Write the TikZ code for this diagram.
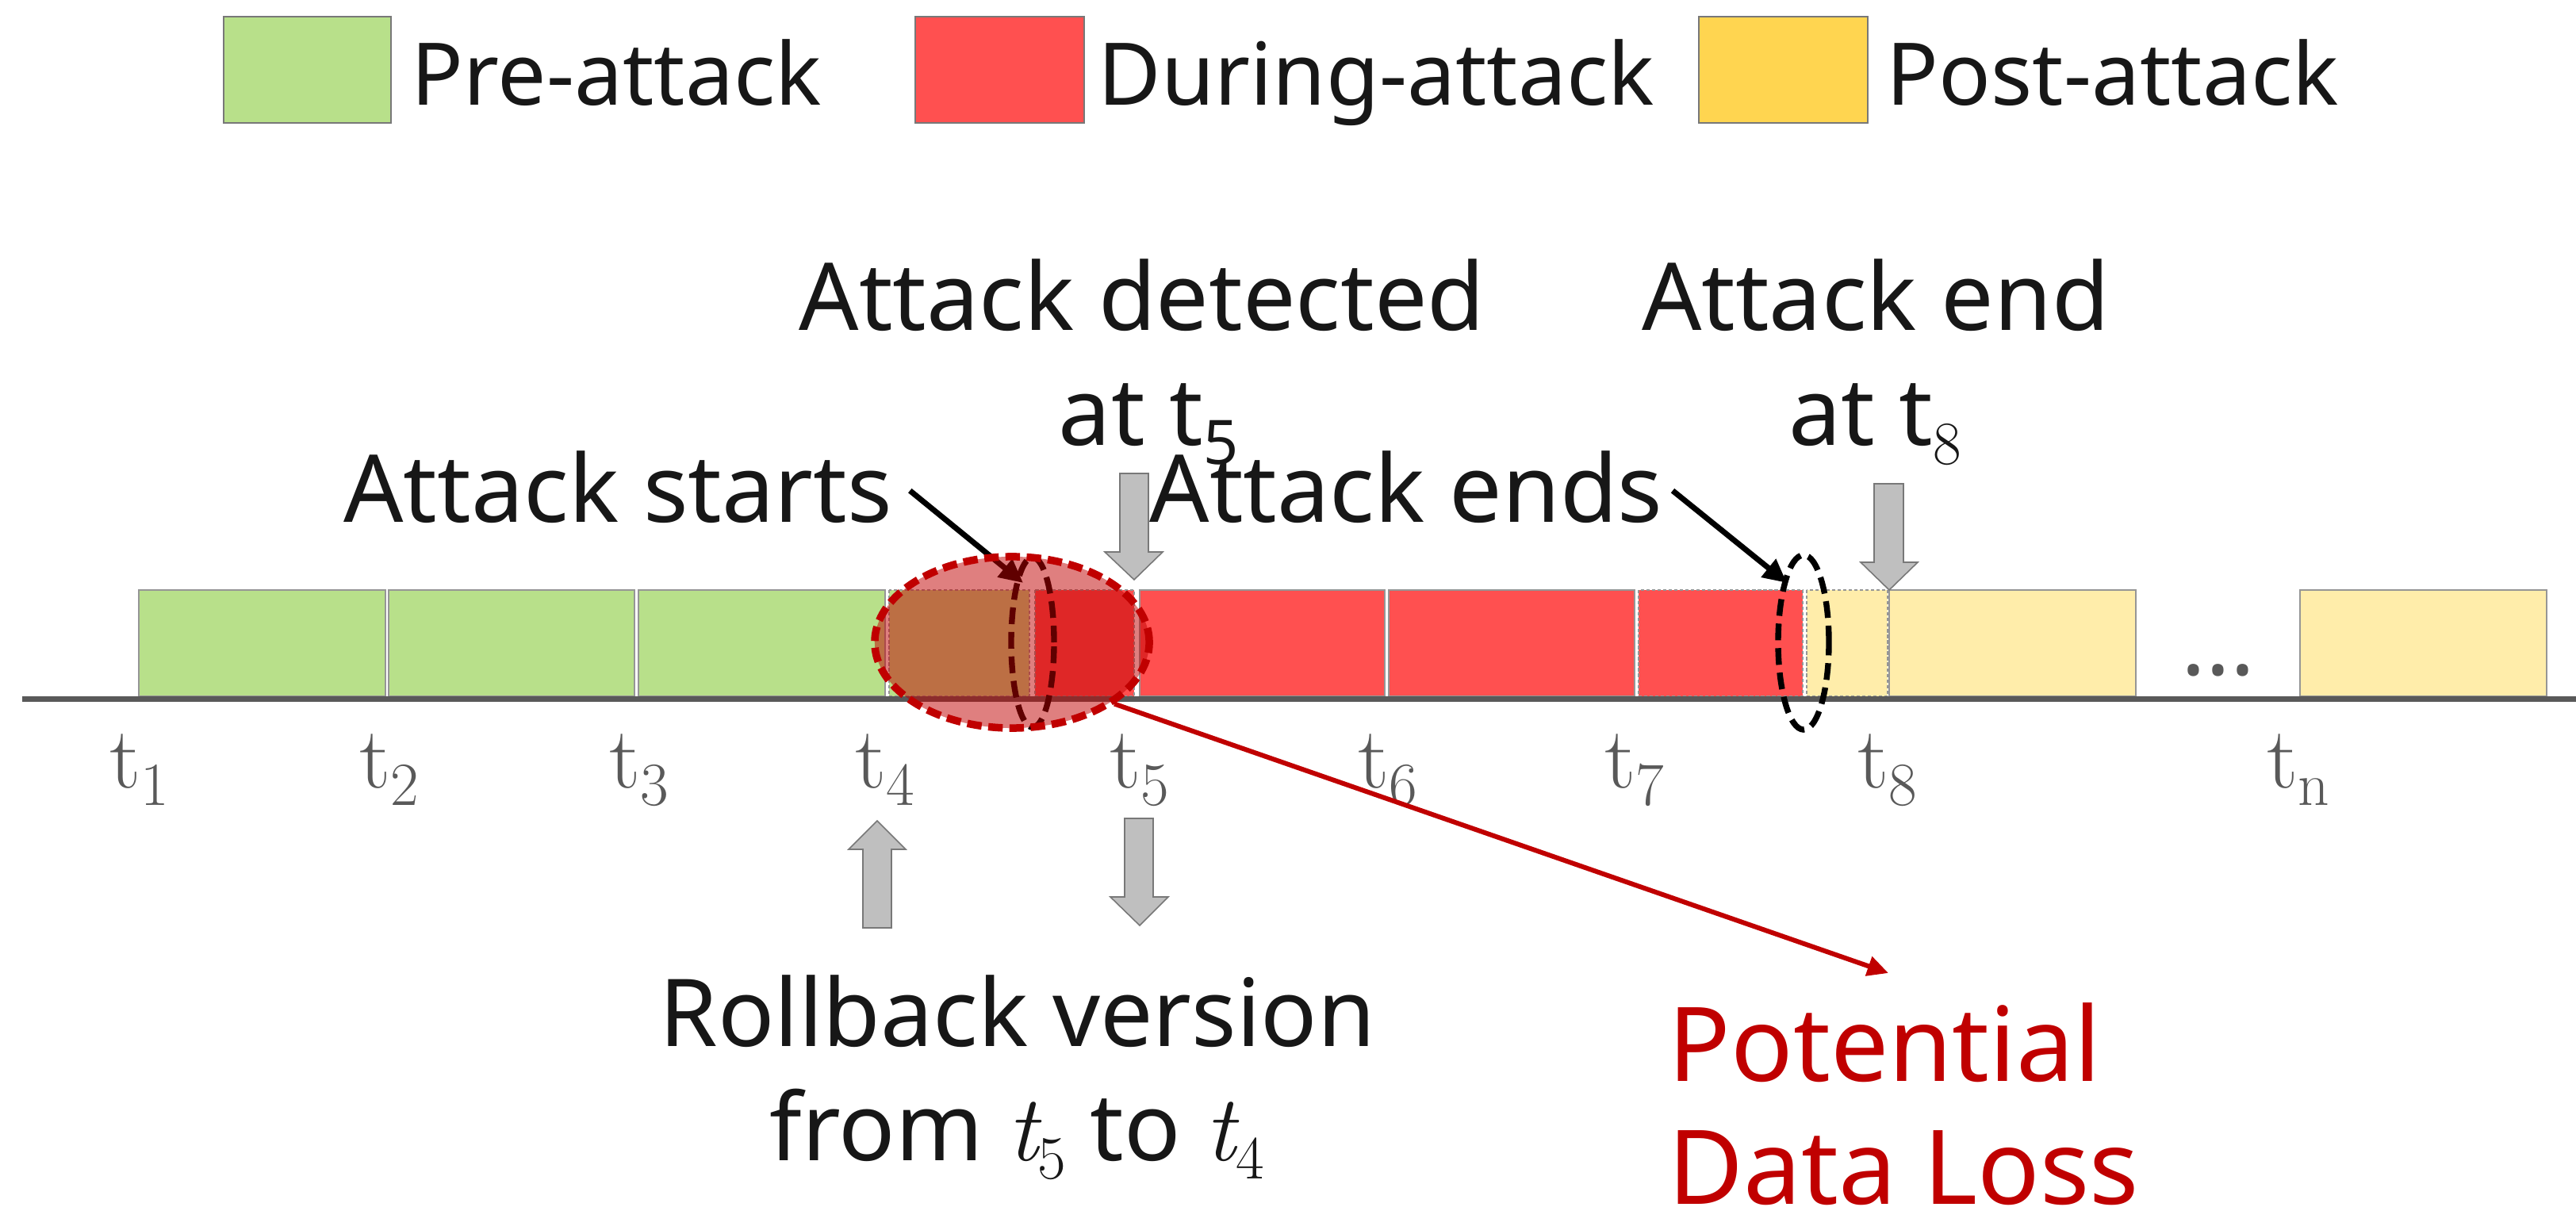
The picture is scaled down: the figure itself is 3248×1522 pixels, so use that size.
\documentclass[tikz,border=0pt]{standalone}
\usepackage{fontspec}
\usetikzlibrary{shapes.geometric,arrows.meta,calc}
\newfontfamily\labelfont{Noto Sans}
\newcommand\lowidx[1]{\raisebox{-0.2em}{\fontsize{22}{24}\selectfont #1}}

\definecolor{preGreen}{RGB}{184,224,138}
\definecolor{durRed}{RGB}{255,80,80}
\definecolor{postGold}{RGB}{255,213,80}
\definecolor{postPale}{RGB}{255,237,170}
\definecolor{axisGray}{RGB}{89,89,89}
\definecolor{edgeGray}{RGB}{150,150,150}
\definecolor{blockGray}{RGB}{191,191,191}
\definecolor{blockEdge}{RGB}{120,120,120}
\definecolor{lossRed}{RGB}{192,0,0}
\definecolor{inkBlack}{RGB}{23,23,23}

\tikzset{
  slot/.style={draw=edgeGray, line width=0.5pt},
  slotcut/.style={draw=edgeGray, line width=0.45pt, dash pattern=on 1.2pt off 0.8pt},
  keybox/.style={draw=blockEdge, line width=0.5pt},
  txt/.style={font=\labelfont\fontsize{33.6}{40}\selectfont, text=inkBlack, inner sep=0pt, anchor=base},
  keytxt/.style={font=\labelfont\fontsize{31}{36}\selectfont, text=inkBlack, inner sep=0pt, anchor=base west},
  losstxt/.style={font=\labelfont\fontsize{37}{44}\selectfont, text=lossRed, inner sep=0pt, anchor=base west},
  tick/.style={font=\rmfamily\fontsize{31.3}{36}\selectfont, text=axisGray, inner sep=0pt, anchor=base},
  blockarrow/.style={fill=blockGray, draw=blockEdge, line width=0.45pt, line join=miter},
  pointer/.style={draw=black, line width=2pt, -{Triangle[length=8.5pt,width=8pt]}},
  lossarrow/.style={draw=lossRed, line width=1.7pt, -{Triangle[length=7.5pt,width=7pt]}},
  cutring/.style={ellipse, draw=black, line width=2.1pt, dash pattern=on 6pt off 2.8pt, inner sep=0pt},
  overlap/.style={ellipse, draw=lossRed, fill=lossRed, fill opacity=0.5, draw opacity=1,
    line width=2.7pt, dash pattern=on 5.2pt off 2.4pt, inner sep=0pt},
}

\begin{document}
\begin{tikzpicture}[x=0.01cm, y=-0.01cm]
\useasboundingbox (0,0) rectangle (3248,1522);
\fill[white] (0,0) rectangle (3248,1522);

% legend
\fill[preGreen] (282,21) rectangle (493,155);
\draw[keybox] (282,21) rectangle (493,155);
\node[keytxt] (keyPre) at (518,133) {Pre-attack};
\fill[durRed] (1154,21) rectangle (1367,155);
\draw[keybox] (1154,21) rectangle (1367,155);
\node[keytxt] (keyDur) at (1384,133) {During-attack};
\fill[postGold] (2142,21) rectangle (2355,155);
\draw[keybox] (2142,21) rectangle (2355,155);
\node[keytxt] (keyPost) at (2378,133) {Post-attack};

% version slots on the timeline
\fill[preGreen] (175,744) rectangle (486,878);  \draw[slot] (175,744) rectangle (486,878);
\fill[preGreen] (490,744) rectangle (800,878);  \draw[slot] (490,744) rectangle (800,878);
\fill[preGreen] (805,744) rectangle (1116,878); \draw[slot] (805,744) rectangle (1116,878);
\fill[preGreen] (1121,744) rectangle (1298,878); \draw[slotcut] (1121,744) rectangle (1298,878);
\fill[durRed] (1305,744) rectangle (1430,878);   \draw[slotcut] (1305,744) rectangle (1430,878);
\fill[durRed] (1437,744) rectangle (1746,878);  \draw[slot] (1437,744) rectangle (1746,878);
\fill[durRed] (1751,744) rectangle (2061,878);  \draw[slot] (1751,744) rectangle (2061,878);
\fill[durRed] (2066,744) rectangle (2273,878);  \draw[slotcut] (2066,744) rectangle (2273,878);
\fill[postPale] (2278,744) rectangle (2380,878); \draw[slotcut] (2278,744) rectangle (2380,878);
\fill[postPale] (2382,744) rectangle (2693,878); \draw[slot] (2382,744) rectangle (2693,878);
\fill[postPale] (2900,744) rectangle (3211,878); \draw[slot] (2900,744) rectangle (3211,878);

% time axis
\fill[axisGray] (28,878) rectangle (3248,885);

% tick labels
\node[tick] (t1) at (176,993) {t\lowidx{1}};
\node[tick] (t2) at (491,993) {t\lowidx{2}};
\node[tick] (t3) at (806,993) {t\lowidx{3}};
\node[tick] (t4) at (1116,993) {t\lowidx{4}};
\node[tick] (t5) at (1437,993) {t\lowidx{5}};
\node[tick] (t6) at (1750,993) {t\lowidx{6}};
\node[tick] (t7) at (2061,993) {t\lowidx{7}};
\node[tick] (t8) at (2380,993) {t\lowidx{8}};
\node[tick] (tn) at (2898,993) {t\lowidx{n}};
\node[txt, text=axisGray, font=\labelfont\bfseries\fontsize{32.7}{40}\selectfont] (gapDots) at (2797,852) {...};

% attack start marker (seen through the overlap zone)
\node[cutring, minimum width=0.54cm, minimum height=2.14cm] (startRing) at (1302,810) {};
\node[txt] (starts) at (779,659) {Attack starts};
\coordinate (startsTip) at (1290,735);
\draw[pointer] ($(starts.east)+(22,4)$) -- (startsTip);

% overlap zone between attack start and detection
\node[overlap, minimum width=3.46cm, minimum height=2.16cm] (lossZone) at (1276,810) {};

% attack end marker
\node[cutring, minimum width=0.64cm, minimum height=2.2cm] (endRing) at (2274,810) {};
\node[txt] (ends) at (1773,659) {Attack ends};
\coordinate (endsTip) at (2253,735);
\draw[pointer] ($(ends.east)+(12,4)$) -- (endsTip);

% block arrows
\draw[blockarrow] (1412,597) -- (1448,597) -- (1448,696) -- (1466,696) -- (1430,731)
  -- (1393,696) -- (1412,696) -- cycle;
\draw[blockarrow] (2363,610) -- (2400,610) -- (2400,709) -- (2418,709) -- (2382,744)
  -- (2346,709) -- (2363,709) -- cycle;
\draw[blockarrow] (1088,1170) -- (1124,1170) -- (1124,1071) -- (1142,1071) -- (1106,1035)
  -- (1070,1071) -- (1088,1071) -- cycle;
\draw[blockarrow] (1418,1032) -- (1454,1032) -- (1454,1131) -- (1473,1131) -- (1437,1167)
  -- (1400,1131) -- (1418,1131) -- cycle;

% labels
\node[txt] (det1) at (1440,417) {Attack detected};
\node[txt] (det2) at (1448,562) {at t\lowidx{5}};
\node[txt] (fin1) at (2365,417) {Attack end};
\node[txt] (fin2) at (2364,562) {at t\lowidx{\rmfamily 8}};
\node[txt] (rb1) at (1283,1319) {Rollback version};
\node[txt] (rb2) at (1282,1463) {from {\rmfamily\itshape t}\lowidx{\rmfamily 5} to {\rmfamily\itshape t}\lowidx{\rmfamily 4}};
\node[losstxt] (loss1) at (2103,1363) {Potential};
\node[losstxt] (loss2) at (2103,1518) {Data Loss};

% data loss pointer
\coordinate (lossTip) at (2381,1227);
\draw[lossarrow] (lossZone.-31) -- (lossTip);
\end{tikzpicture}
\end{document}
